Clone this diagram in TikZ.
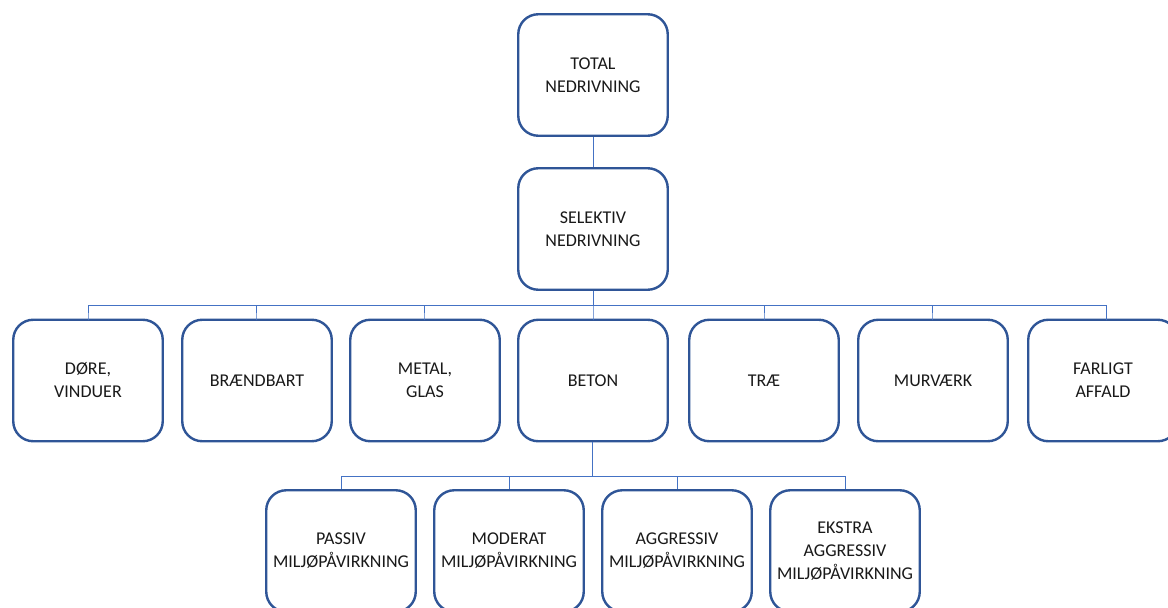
\documentclass[tikz,border=0pt]{standalone}
\usepackage{fontspec}
\setmainfont{Carlito}
\definecolor{boxblue}{HTML}{2F5597}
\definecolor{linkblue}{HTML}{4472C4}
\begin{document}
\begin{tikzpicture}[x=1pt,y=-1pt,
  box/.style={draw=boxblue,line width=2.4pt,rounded corners=20pt,minimum width=149.5pt,minimum height=121.5pt,align=center,inner sep=0pt,font=\fontsize{18}{23}\selectfont,text=black!90},
  link/.style={draw=linkblue,line width=1pt}]
\useasboundingbox (0,0) rectangle (1168,608);
\clip (0,0) rectangle (1168,608);
\fill[white] (0,0) rectangle (1168,608);
\node[box] (tot) at (593,75) {TOTAL\\NEDRIVNING};
\node[box] (sel) at (593,229) {SELEKTIV\\NEDRIVNING};
\node[box] (d1) at (88,380.5) {DØRE,\\VINDUER};
\node[box] (d2) at (257,380.5) {BRÆNDBART};
\node[box] (d3) at (425,380.5) {METAL,\\GLAS};
\node[box] (d4) at (593,380.5) {BETON};
\node[box] (d5) at (764,380.5) {TRÆ};
\node[box] (d6) at (933,380.5) {MURVÆRK};
\node[box] (d7) at (1103,380.5) {FARLIGT\\AFFALD};
\node[box] (e1) at (341,551) {PASSIV\\MILJØPÅVIRKNING};
\node[box] (e2) at (509,551) {MODERAT\\MILJØPÅVIRKNING};
\node[box] (e3) at (677,551) {AGGRESSIV\\MILJØPÅVIRKNING};
\node[box] (e4) at (845,551) {EKSTRA\\AGGRESSIV\\MILJØPÅVIRKNING};
\coordinate (bus1) at (593,305.5);
\coordinate (bus2) at (592,476);
\draw[link] (tot.south) -- (sel.north);
\foreach \n/\x in {d1/88,d2/256,d3/424,d4/593,d5/764,d6/932,d7/1106}{
  \draw[link] (sel.south) -- (bus1) -| (\x,320) -- (\n.north -| \x,320);
}
\foreach \n in {e1,e2,e3,e4}{
  \draw[link] (d4.south -| bus2) -- (bus2) -| (\n.north);
}
\end{tikzpicture}
\end{document}
